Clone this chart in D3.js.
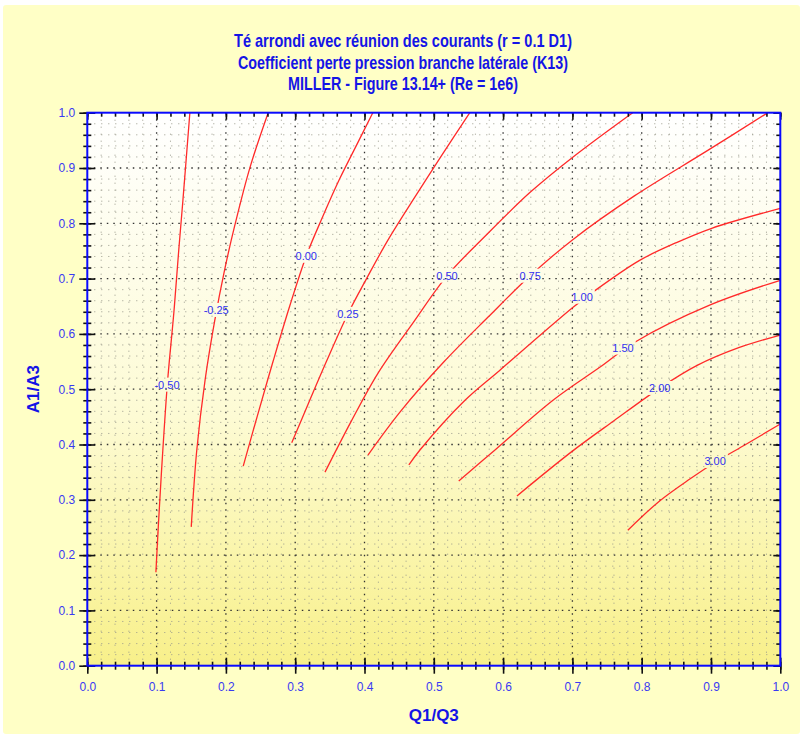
<!DOCTYPE html>
<html>
<head>
<meta charset="utf-8">
<script src="https://cdn.jsdelivr.net/npm/d3@7"></script>
<style>
  body { margin: 0; background: #ffffff; }
  text { font-family: "Liberation Sans", Arial, sans-serif; }
</style>
</head>
<body>
<div id="chart"></div>
<script>
let svgWidth = 803;
let svgHeight = 738;

let margin = { top: 112.7, right: 23, bottom: 72.3, left: 87.3 };
let width = 693;
let height = 553;

// titles and axis labels
let titleLines = [
  "Té arrondi avec réunion des courants (r = 0.1 D1)",
  "Coefficient perte pression branche latérale (K13)",
  "MILLER - Figure 13.14+ (Re = 1e6)"
];
let titleWidths = [338, 330, 230];
let xTitle = "Q1/Q3";
let yTitle = "A1/A3";

// ticks
let majorTicks = [0, 0.1, 0.2, 0.3, 0.4, 0.5, 0.6, 0.7, 0.8, 0.9, 1.0];
let minorTicks = d3.range(0, 51).map(i => i / 50);

// iso-K13 curves, points [Q1/Q3, A1/A3]
let levels = ["-0.50", "-0.25", "0.00", "0.25", "0.50", "0.75", "1.00", "1.50", "2.00", "3.00"];

let curveM050 = [[0.099,0.169],[0.103,0.264],[0.109,0.390],[0.116,0.517],[0.125,0.640],[0.132,0.752],[0.138,0.842],[0.148,1.0]];
let curveM025 = [[0.150,0.251],[0.158,0.390],[0.170,0.517],[0.184,0.625],[0.198,0.715],[0.213,0.797],[0.235,0.902],[0.261,1.0]];
let curve000 = [[0.225,0.361],[0.245,0.450],[0.268,0.550],[0.292,0.650],[0.316,0.741],[0.339,0.810],[0.364,0.880],[0.388,0.940],[0.412,1.0]];
let curve025 = [[0.295,0.403],[0.321,0.480],[0.345,0.550],[0.376,0.636],[0.403,0.700],[0.434,0.770],[0.474,0.850],[0.510,0.920],[0.552,1.0]];
let curve050 = [[0.343,0.350],[0.380,0.440],[0.420,0.530],[0.470,0.620],[0.519,0.705],[0.575,0.778],[0.639,0.856],[0.701,0.920],[0.787,1.0]];
let curve075 = [[0.405,0.381],[0.452,0.460],[0.515,0.550],[0.578,0.630],[0.639,0.705],[0.700,0.770],[0.790,0.850],[0.893,0.930],[0.982,1.0]];
let curve100 = [[0.464,0.363],[0.480,0.390],[0.545,0.480],[0.595,0.534],[0.701,0.648],[0.730,0.676],[0.797,0.733],[0.850,0.765],[0.901,0.791],[1.0,0.827]];
let curve150 = [[0.536,0.334],[0.590,0.392],[0.672,0.480],[0.740,0.540],[0.790,0.585],[0.898,0.652],[1.0,0.697]];
let curve200 = [[0.620,0.307],[0.700,0.388],[0.760,0.443],[0.826,0.502],[0.880,0.543],[0.940,0.575],[1.0,0.598]];
let curve300 = [[0.780,0.245],[0.825,0.297],[0.870,0.338],[0.906,0.368],[0.950,0.400],[1.0,0.437]];

// label anchor of each curve [Q1/Q3, A1/A3]
let labelX = [0.115, 0.186, 0.316, 0.376, 0.519, 0.639, 0.714, 0.773, 0.826, 0.906];
let labelY = [0.508, 0.643, 0.741, 0.636, 0.705, 0.705, 0.667, 0.575, 0.502, 0.370];

let curves = [curveM050, curveM025, curve000, curve025, curve050, curve075, curve100, curve150, curve200, curve300];

let svg = d3.select("#chart")
  .append("svg")
  .attr("width", svgWidth)
  .attr("height", svgHeight);

let defs = svg.append("defs");

let grad = defs.append("linearGradient")
  .attr("id", "plotBg")
  .attr("x1", 0).attr("y1", 0).attr("x2", 0).attr("y2", 1);
grad.append("stop").attr("offset", "0%").attr("stop-color", "#ffffff");
grad.append("stop").attr("offset", "55%").attr("stop-color", "#fdfbd4");
grad.append("stop").attr("offset", "100%").attr("stop-color", "#f8f08a");

// outer panel
svg.append("rect")
  .attr("x", 3).attr("y", 5)
  .attr("width", svgWidth - 6).attr("height", svgHeight - 9)
  .attr("rx", 3)
  .attr("fill", "#ffffc6");

// titles
svg.selectAll(".title")
  .data(titleLines)
  .enter()
  .append("text")
  .attr("class", "title")
  .attr("x", 403)
  .attr("y", (d, i) => 47 + i * 21.5)
  .attr("text-anchor", "middle")
  .attr("textLength", (d, i) => titleWidths[i])
  .attr("lengthAdjust", "spacingAndGlyphs")
  .style("font-size", "19px")
  .style("font-weight", "bold")
  .attr("fill", "#1414e6")
  .text(d => d);

let chartGroup = svg.append("g")
  .attr("transform", `translate(${margin.left}, ${margin.top})`);

let xScale = d3.scaleLinear().domain([0, 1]).range([0, width]);
let yScale = d3.scaleLinear().domain([0, 1]).range([height, 0]);

chartGroup.append("rect")
  .attr("width", width)
  .attr("height", height)
  .attr("fill", "url(#plotBg)");

// minor grid
let minorOnly = minorTicks.filter(v => Math.abs(v * 10 - Math.round(v * 10)) > 1e-6);
chartGroup.append("g")
  .selectAll("line")
  .data(minorOnly)
  .enter()
  .append("line")
  .attr("x1", d => xScale(d)).attr("x2", d => xScale(d))
  .attr("y1", 0).attr("y2", height)
  .attr("stroke", "#9a9a8c")
  .attr("stroke-width", 1)
  .attr("stroke-dasharray", "1,6");
chartGroup.append("g")
  .selectAll("line")
  .data(minorOnly)
  .enter()
  .append("line")
  .attr("y1", d => yScale(d)).attr("y2", d => yScale(d))
  .attr("x1", 0).attr("x2", width)
  .attr("stroke", "#9a9a8c")
  .attr("stroke-width", 1)
  .attr("stroke-dasharray", "1,6");

// major grid
let inner = majorTicks.slice(1, -1);
chartGroup.append("g")
  .selectAll("line")
  .data(inner)
  .enter()
  .append("line")
  .attr("x1", d => xScale(d)).attr("x2", d => xScale(d))
  .attr("y1", 0).attr("y2", height)
  .attr("stroke", "#333333")
  .attr("stroke-width", 1.3)
  .attr("stroke-dasharray", "1.5,5");
chartGroup.append("g")
  .selectAll("line")
  .data(inner)
  .enter()
  .append("line")
  .attr("y1", d => yScale(d)).attr("y2", d => yScale(d))
  .attr("x1", 0).attr("x2", width)
  .attr("stroke", "#333333")
  .attr("stroke-width", 1.3)
  .attr("stroke-dasharray", "1.5,5");

// labels first (need their boxes for the gaps in the curves)
let labelsGroup = chartGroup.append("g");
let labels = labelsGroup.selectAll("text")
  .data(levels)
  .enter()
  .append("text")
  .attr("x", (d, i) => xScale(labelX[i]))
  .attr("y", (d, i) => yScale(labelY[i]))
  .attr("dy", "0.35em")
  .attr("text-anchor", "middle")
  .style("font-size", "11px")
  .attr("fill", "#3030f0")
  .text(d => d);

let mask = defs.append("mask").attr("id", "labelGaps")
  .attr("maskUnits", "userSpaceOnUse")
  .attr("x", -10).attr("y", -10).attr("width", width + 20).attr("height", height + 20);
mask.append("rect")
  .attr("x", -10).attr("y", -10)
  .attr("width", width + 20).attr("height", height + 20)
  .attr("fill", "white");
labels.each(function() {
  let b = this.getBBox();
  mask.append("rect")
    .attr("x", b.x - 2).attr("y", b.y - 1)
    .attr("width", b.width + 4).attr("height", b.height + 2)
    .attr("fill", "black");
});

let lineGen = d3.line()
  .x(d => xScale(d[0]))
  .y(d => yScale(d[1]))
  .curve(d3.curveCatmullRom.alpha(0.5));

chartGroup.append("g")
  .attr("mask", "url(#labelGaps)")
  .selectAll("path")
  .data(curves)
  .enter()
  .append("path")
  .attr("d", d => lineGen(d))
  .attr("fill", "none")
  .attr("stroke", "#ff2a2a")
  .attr("stroke-width", 1.3);

labelsGroup.raise();

// axes
let bottomAxis = d3.axisBottom(xScale).tickValues(majorTicks).tickSize(8).tickFormat(d3.format(".1f"));
let bottomMinor = d3.axisBottom(xScale).tickValues(minorTicks).tickSize(4).tickFormat("");
let leftAxis = d3.axisLeft(yScale).tickValues(majorTicks).tickSize(8).tickFormat(d3.format(".1f"));
let leftMinor = d3.axisLeft(yScale).tickValues(minorTicks).tickSize(4).tickFormat("");
let topMinor = d3.axisTop(xScale).tickValues(minorTicks).tickSize(4).tickFormat("");
let topMajor = d3.axisTop(xScale).tickValues(majorTicks).tickSize(7).tickFormat("");
let rightMinor = d3.axisRight(yScale).tickValues(minorTicks).tickSize(4).tickFormat("");
let rightMajor = d3.axisRight(yScale).tickValues(majorTicks).tickSize(7).tickFormat("");

let xAxisG = chartGroup.append("g").attr("transform", `translate(0, ${height})`).call(bottomAxis);
let xMinorG = chartGroup.append("g").attr("transform", `translate(0, ${height})`).call(bottomMinor);
let yAxisG = chartGroup.append("g").call(leftAxis);
let yMinorG = chartGroup.append("g").call(leftMinor);
// top and right ticks point inward
let topG = chartGroup.append("g").call(topMinor);
let topG2 = chartGroup.append("g").call(topMajor);
let rightG = chartGroup.append("g").attr("transform", `translate(${width}, 0)`).call(rightMinor);
let rightG2 = chartGroup.append("g").attr("transform", `translate(${width}, 0)`).call(rightMajor);

[xAxisG, xMinorG, yAxisG, yMinorG, topG, topG2, rightG, rightG2].forEach(g => {
  g.select(".domain").remove();
  g.selectAll("line").attr("stroke", "#111").attr("stroke-width", 1.6);
});
xAxisG.selectAll("line").attr("y1", -8).attr("y2", 8);
xMinorG.selectAll("line").attr("y1", -4).attr("y2", 4);
yAxisG.selectAll("line").attr("x1", 8).attr("x2", -8);
yMinorG.selectAll("line").attr("x1", 4).attr("x2", -4);
topG.selectAll("line").attr("y2", 4);
topG2.selectAll("line").attr("y2", 7);
rightG.selectAll("line").attr("x2", -4);
rightG2.selectAll("line").attr("x2", -7);

xAxisG.selectAll("text")
  .attr("y", 17)
  .style("font-size", "12px")
  .attr("fill", "#3a3af2");
yAxisG.selectAll("text")
  .attr("x", -12)
  .style("font-size", "12px")
  .attr("fill", "#3a3af2");

// frame
chartGroup.append("rect")
  .attr("width", width)
  .attr("height", height)
  .attr("fill", "none")
  .attr("stroke", "#0a0aff")
  .attr("stroke-width", 2);

// axis titles
svg.append("text")
  .attr("x", margin.left + width / 2)
  .attr("y", 721)
  .attr("text-anchor", "middle")
  .style("font-size", "17px")
  .style("font-weight", "bold")
  .attr("fill", "#1414e6")
  .text(xTitle);

svg.append("text")
  .attr("transform", `translate(39, ${margin.top + height / 2}) rotate(-90)`)
  .attr("text-anchor", "middle")
  .style("font-size", "17px")
  .style("font-weight", "bold")
  .attr("fill", "#1414e6")
  .text(yTitle);
</script>
</body>
</html>
